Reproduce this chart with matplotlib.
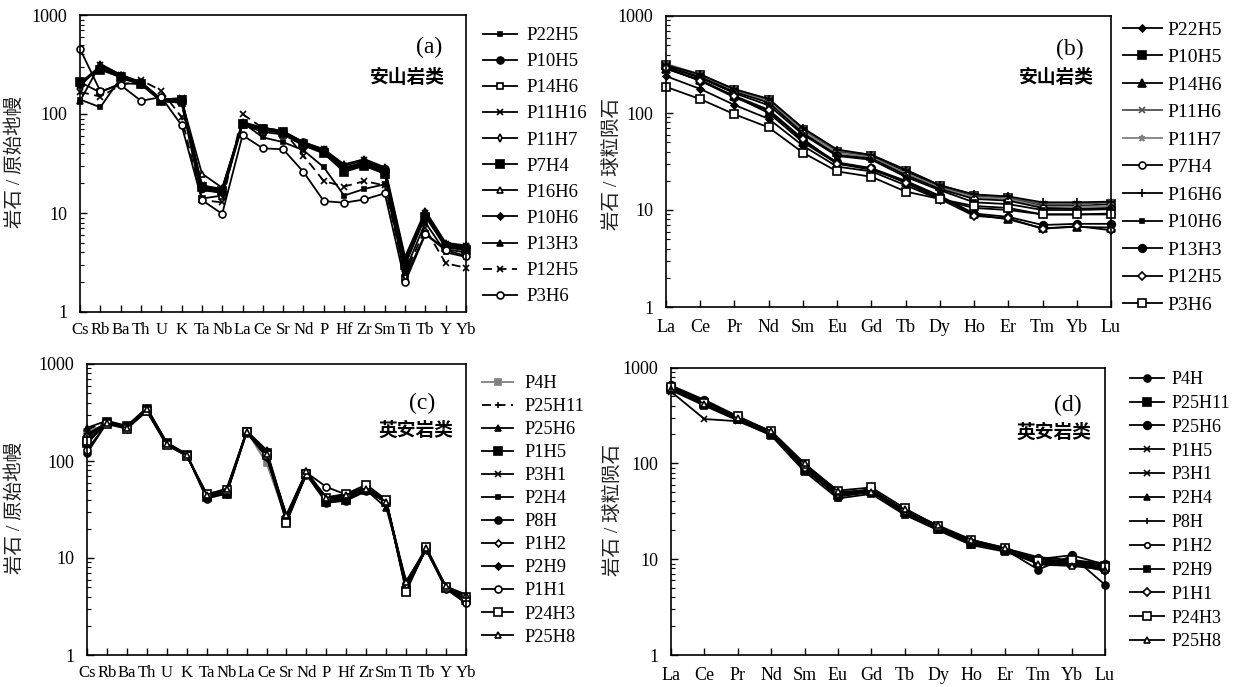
import numpy as np
import matplotlib
matplotlib.use('Agg')
import matplotlib.pyplot as plt
from matplotlib.ticker import LogLocator, NullFormatter, FixedLocator

plt.rcParams['font.family'] = ['Liberation Serif', 'Noto Sans CJK SC']
plt.rcParams['mathtext.default'] = 'regular'

#---------------- data ----------------
spider_elems = ['Cs', 'Rb', 'Ba', 'Th', 'U', 'K', 'Ta', 'Nb', 'La', 'Ce',
                'Sr', 'Nd', 'P', 'Hf', 'Zr', 'Sm', 'Ti', 'Tb', 'Y', 'Yb']
ree_elems = ['La', 'Ce', 'Pr', 'Nd', 'Sm', 'Eu', 'Gd', 'Tb', 'Dy', 'Ho',
             'Er', 'Tm', 'Yb', 'Lu']

# (a) andesite, primitive-mantle normalised
a_data = {
    'P22H5':  [140, 117, 230, 200, 135, 130, 17, 16, 82, 58, 52, 43, 29, 15, 17.5, 19.5, 2.6, 8.0, 4.0, 3.6],
    'P10H5':  [200, 290, 235, 200, 140, 140, 18, 17, 80, 72, 66, 52, 43, 28, 33, 28, 3.0, 9.5, 4.8, 4.5],
    'P14H6':  [210, 165, 205, 200, 135, 130, 14, 15, 78, 66, 62, 48, 40, 27, 30, 25, 2.2, 6.2, 4.3, 4.0],
    'P11H16': [190, 310, 245, 210, 140, 145, 19, 17.5, 82, 73, 67, 51, 44, 30, 34, 28, 3.4, 10, 4.9, 4.6],
    'P11H7':  [205, 295, 240, 205, 138, 132, 17.5, 16, 79, 69, 64, 49, 41, 28, 31, 26, 3.1, 9.6, 4.6, 4.3],
    'P7H4':   [210, 280, 235, 200, 135, 140, 18.5, 16.5, 80, 71, 66, 50, 40, 26, 30, 25, 3.0, 9.2, 4.5, 4.2],
    'P16H6':  [200, 300, 240, 205, 140, 138, 25, 18, 80, 70, 65, 50, 42, 29, 32, 27, 3.2, 10, 4.7, 4.4],
    'P10H6':  [205, 305, 242, 208, 136, 133, 18, 16, 81, 70, 65, 49, 41, 28, 31, 26, 3.3, 9.8, 4.7, 4.4],
    'P13H3':  [135, 320, 250, 210, 142, 140, 19, 17, 83, 72, 67, 52, 44, 31, 35, 29, 3.6, 10.5, 5.0, 4.7],
    'P12H5':  [167, 150, 195, 220, 172, 93, 13.5, 12.8, 100, 72, 68, 38, 21, 18.5, 21, 19, 2.4, 7.0, 3.1, 2.8],
    'P3H6':   [455, 170, 196, 136, 148, 77, 13.5, 9.8, 61, 45, 44, 26, 13.2, 12.7, 13.7, 15.8, 2.0, 6.1, 4.2, 3.7],
}

# (b) andesite, chondrite normalised REE
b_data = {
    'P22H5': [240, 177, 121, 87, 46, 28, 25, 18, 12.8, 10.5, 10, 9, 9, 9.2],
    'P10H5': [315, 245, 172, 136, 67, 40, 36, 25, 17.5, 14, 13.3, 11, 11, 11.5],
    'P14H6': [285, 220, 148, 100, 50, 30, 26, 19.5, 13.5, 9, 8, 6.5, 6.7, 6.6],
    'P11H6': [320, 250, 175, 138, 68, 41, 37, 26, 18, 14.2, 13.5, 11.5, 11.5, 12],
    'P11H7': [305, 240, 168, 132, 65, 39, 35, 24, 17, 13.5, 13, 10.8, 10.8, 11],
    'P7H4':  [300, 235, 165, 128, 62, 37, 34, 23, 16.5, 13, 12.5, 10.5, 10.3, 10.5],
    'P16H6': [310, 250, 176, 140, 70, 42, 37, 26, 18, 14.5, 13.8, 12, 12, 12.2],
    'P10H6': [300, 230, 160, 120, 60, 36, 33, 22, 16, 12, 11.5, 10, 10, 10.2],
    'P13H3': [290, 215, 145, 105, 52, 31, 27, 20, 14, 9.2, 8.5, 7.0, 7.2, 7.2],
    'P12H5': [290, 215, 150, 108, 54, 30, 27, 19, 13, 8.7, 8.2, 6.4, 6.8, 6.2],
    'P3H6':  [186, 139, 97, 71, 39, 25, 22, 15.5, 13, 11, 10.5, 9, 9, 9],
}

# (c) dacite, primitive-mantle normalised
c_data = {
    'P4H':    [200, 240, 220, 320, 145, 115, 45, 48, 205, 95, 25, 72, 42, 44, 52, 37, 5.2, 12, 4.8, 3.6],
    'P25H11': [210, 255, 225, 350, 150, 117, 44, 46, 200, 125, 27, 76, 41, 44, 53, 38, 5.4, 12.5, 5.0, 3.9],
    'P25H6':  [220, 260, 230, 355, 155, 118, 43, 47, 205, 130, 27, 78, 38, 42, 50, 33, 5.8, 12.2, 5.0, 4.1],
    'P1H5':   [155, 250, 228, 345, 155, 116, 43, 46, 198, 120, 24, 74, 38, 40, 50, 38, 4.6, 12.5, 4.9, 3.7],
    'P3H1':   [180, 245, 225, 340, 150, 115, 44, 47, 200, 118, 26, 75, 40, 43, 52, 38, 5.0, 12.6, 4.9, 3.8],
    'P2H4':   [170, 252, 222, 335, 148, 114, 44, 48, 200, 115, 26, 74, 41, 45, 51, 39, 5.1, 12.4, 4.8, 3.9],
    'P8H':    [120, 248, 226, 338, 150, 115, 41, 46, 195, 118, 25, 72, 37, 39, 49, 38, 4.8, 12.3, 4.9, 3.8],
    'P1H2':   [185, 250, 215, 330, 148, 113, 45, 48, 200, 110, 27, 76, 42, 45, 53, 39, 5.1, 12.8, 4.8, 3.5],
    'P2H9':   [150, 255, 230, 345, 152, 116, 42, 47, 202, 122, 26, 75, 39, 41, 50, 37, 4.9, 12.2, 5.0, 3.9],
    'P1H1':   [130, 245, 222, 335, 148, 114, 45, 50, 198, 110, 25, 76, 54, 45, 54, 39, 5.3, 12.5, 4.8, 3.4],
    'P24H3':  [160, 240, 215, 330, 145, 113, 46, 50, 198, 115, 23, 74, 42, 46, 57, 40, 4.5, 13, 5.0, 4.0],
    'P25H8':  [190, 245, 220, 345, 150, 115, 45, 52, 200, 118, 28, 78, 42, 45, 52, 38, 5.6, 12.8, 5.1, 4.2],
}

# (d) dacite, chondrite normalised REE
d_data = {
    'P4H':    [620, 440, 300, 205, 88, 45, 50, 30, 21, 15, 12.6, 7.8, 10.8, 5.4],
    'P25H11': [600, 420, 290, 200, 85, 47, 52, 31, 20.5, 14.5, 12.4, 9.5, 9.2, 8.5],
    'P25H6':  [650, 460, 310, 210, 90, 48, 54, 32, 21.5, 15.5, 13, 10, 11, 8.8],
    'P1H5':   [560, 290, 275, 200, 86, 50, 52, 31, 21, 15, 12.5, 9.5, 9, 8.2],
    'P3H1':   [600, 410, 285, 205, 88, 46, 51, 31, 21, 15, 12.7, 9.2, 9.2, 8],
    'P2H4':   [630, 440, 300, 215, 95, 50, 52, 32, 22, 15.5, 13, 10, 9.5, 8.5],
    'P8H':    [610, 420, 290, 205, 88, 46, 51, 31, 21, 15, 12.6, 9.8, 9.5, 8.8],
    'P1H2':   [620, 430, 300, 210, 92, 48, 53, 32, 21.5, 15.5, 13, 10.5, 9.8, 9],
    'P2H9':   [580, 400, 280, 195, 82, 43, 48, 29, 20, 14, 12, 9, 8.8, 7.8],
    'P1H1':   [640, 445, 305, 210, 90, 48, 52, 32, 21.5, 15.3, 12.8, 9.8, 9, 7.5],
    'P24H3':  [620, 430, 310, 215, 98, 52, 56, 34, 22, 15.8, 13.2, 9.5, 9.8, 8.2],
    'P25H8':  [600, 420, 295, 218, 100, 51, 50, 33, 22.5, 16, 13, 8.8, 8.5, 7.8],
}

#---------------- styles ----------------
K = 'black'
G = '#808080'
# (marker, size, filled, color, linestyle)
a_sty = [('s', 3.5, True, K, '-'), ('o', 5, True, K, '-'), ('s', 5, False, K, '-'),
         ('x', 5, True, K, '-'), ('d', 4, False, K, '-'), ('s', 6, True, K, '-'),
         ('^', 5, False, K, '-'), ('D', 3.5, True, K, '-'), ('^', 5, True, K, '-'),
         ('x', 5, True, K, (0, (5, 3))), ('o', 5, False, K, '-')]
b_sty = [('D', 3.5, True, K, '-'), ('s', 6, True, K, '-'), ('^', 5.5, True, K, '-'),
         ('x', 4.5, True, '#505050', '-'), ('*', 5, True, G, '-'), ('o', 5, False, K, '-'),
         ('+', 6, True, K, '-'), ('s', 3.5, True, K, '-'), ('o', 5.5, True, K, '-'),
         ('D', 4, False, K, '-'), ('s', 6, False, K, '-')]
c_sty = [('s', 4, True, G, '-'), ('+', 4.5, True, K, (0, (5, 3))), ('^', 5, True, K, '-'),
         ('s', 5.5, True, K, '-'), ('x', 4.5, True, K, '-'), ('s', 3, True, K, '-'),
         ('o', 5, True, K, '-'), ('D', 3.5, False, K, '-'), ('D', 3.5, True, K, '-'),
         ('o', 5, False, K, '-'), ('s', 5.5, False, K, '-'), ('^', 4.5, False, K, '-')]
d_sty = [('o', 5, True, K, '-'), ('s', 5.5, True, K, '-'), ('o', 5.5, True, K, '-'),
         ('x', 4, True, K, '-'), ('x', 5, True, K, '-'), ('^', 5, True, K, '-'),
         ('|', 5, True, K, '-'), ('o', 4, False, K, '-'), ('s', 4.5, True, K, '-'),
         ('D', 4, False, K, '-'), ('s', 5.5, False, K, '-'), ('^', 5, False, K, '-')]

W, H = 1246, 687
fig = plt.figure(figsize=(W / 100, H / 100), dpi=100)


def fx(px):
    return px / W


def fy(py):
    return 1 - py / H


def panel(rect, elems, data, styles, xfs, xpad, leg, ylabel, tag, tagpos, rock, rockpos):
    l, t, r, b = rect
    ax = fig.add_axes([fx(l), fy(b), fx(r - l), (b - t) / H])
    x = np.arange(len(elems))
    handles = []
    for (name, vals), (m, ms, filled, col, ls) in zip(data.items(), styles):
        h, = ax.plot(x, vals, color=col, lw=1.3, ls=ls, marker=m, ms=ms,
                     mfc=col if filled else 'white', mec=col, mew=1.2,
                     clip_on=False, label=name)
        handles.append(h)
    ax.set_yscale('log')
    ax.set_ylim(1, 1000)
    ax.set_xlim(0, len(elems) - 1)
    ax.set_xticks(x)
    ax.set_xticklabels(elems, fontsize=xfs)
    ax.yaxis.set_major_locator(FixedLocator([1, 10, 100, 1000]))
    ax.set_yticklabels(['1', '10', '100', '1000'], fontsize=13)
    ax.yaxis.set_minor_locator(LogLocator(base=10, subs=np.arange(2, 10)))
    ax.yaxis.set_minor_formatter(NullFormatter())
    ax.tick_params(axis='y', which='major', direction='in', length=5, width=1, pad=9)
    ax.tick_params(axis='y', which='minor', direction='in', length=3, width=0.8)
    ax.tick_params(axis='x', direction='in', length=5, width=1, pad=xpad)
    for s in ax.spines.values():
        s.set_linewidth(1.2)
    # legend outside the axes
    lx, ly, lfs, hl, htp, lsp = leg
    ax.legend(handles=handles, loc='upper left', bbox_to_anchor=(fx(lx), fy(ly)),
              bbox_transform=fig.transFigure, frameon=False, borderpad=0,
              borderaxespad=0, fontsize=lfs, handlelength=hl,
              handletextpad=htp, labelspacing=lsp)
    ytxt, yx, yy = ylabel
    fig.text(fx(yx), fy(yy), ytxt, rotation=90, ha='center', va='center',
             fontsize=14, color='#222222')
    fig.text(fx(tagpos[0]), fy(tagpos[1]), tag, ha='center', va='center', fontsize=17)
    fig.text(fx(rockpos[0]), fy(rockpos[1]), rock, ha='center', va='center',
             fontsize=13.5, fontweight='bold')
    return ax


panel((80, 15, 466, 312), spider_elems, a_data, a_sty, 12, 7,
      (483, 27, 13.5, 1.8, 0.5, 0.48), ('岩石 / 原始地幔', 15, 162),
      '(a)', (429, 47), '安山岩类', (407, 78))
panel((666, 16, 1111, 307), ree_elems, b_data, b_sty, 13, 9,
      (1123, 21, 14, 2.0, 0.3, 0.51), ('岩石 / 球粒陨石', 612, 164),
      '(b)', (1070, 49), '安山岩类', (1056, 78))
panel((87, 364, 466, 655), spider_elems, c_data, c_sty, 12, 7,
      (482, 375, 13.2, 1.7, 0.6, 0.33), ('岩石 / 原始地幔', 15, 508),
      '(c)', (422, 403), '英安岩类', (416, 431))
panel((671, 367.5, 1105, 655), ree_elems, d_data, d_sty, 13, 9,
      (1130, 371, 13, 1.9, 0.4, 0.38), ('岩石 / 球粒陨石', 613, 510),
      '(d)', (1068, 405), '英安岩类', (1054, 433))

fig.savefig('out.png', dpi=100)
